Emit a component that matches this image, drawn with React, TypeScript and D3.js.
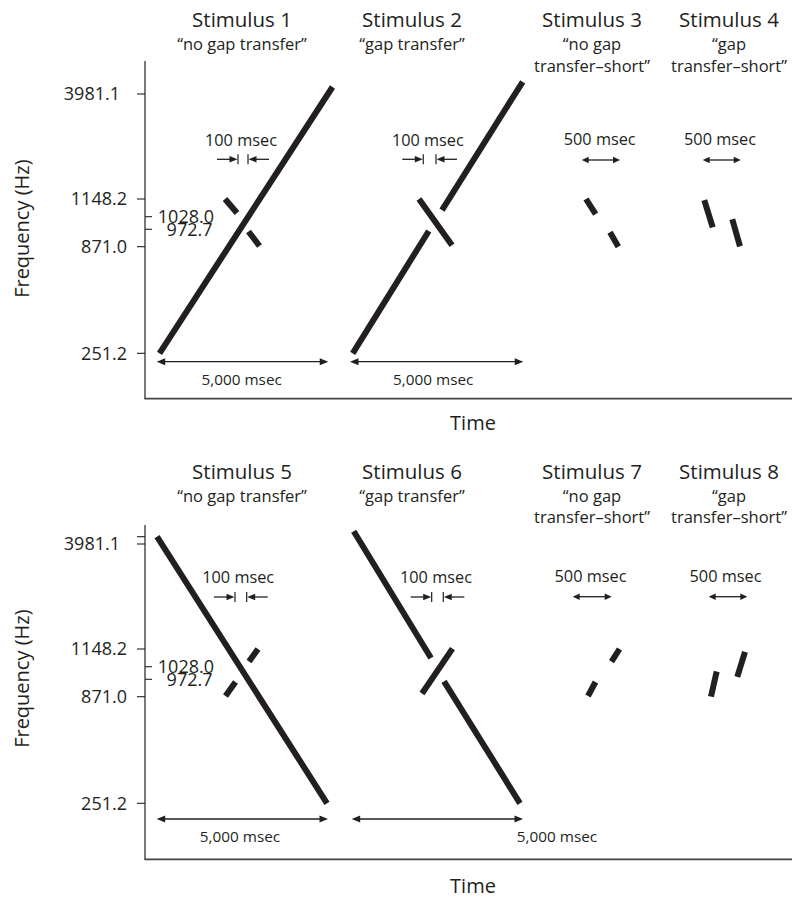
import React from "react";
import * as d3 from "d3";

// ---------- data ----------
const stimulusTitles = [
  "Stimulus 1", "Stimulus 2", "Stimulus 3", "Stimulus 4",
  "Stimulus 5", "Stimulus 6", "Stimulus 7", "Stimulus 8",
];
const stimulusSubtitles: string[][] = [
  ["\u201Cno gap transfer\u201D"], ["\u201Cgap transfer\u201D"], ["\u201Cno gap", "transfer\u2013short\u201D"], ["\u201Cgap", "transfer\u2013short\u201D"],
  ["\u201Cno gap transfer\u201D"], ["\u201Cgap transfer\u201D"], ["\u201Cno gap", "transfer\u2013short\u201D"], ["\u201Cgap", "transfer\u2013short\u201D"],
];

// frequency ticks (Hz), schematic axis
const freqDomain = [251.2, 871.0, 972.7, 1028.0, 1148.2, 3981.1];
const outerTickValues = [3981.1, 1148.2, 871.0, 251.2];
const innerTickValues = [1028.0, 972.7];
const bottomExtraTick = [4178];

// tone segments: [t0 (ms), f0 (Hz), t1 (ms), f1 (Hz)]
type Seg = [number, number, number, number];
const stim1Tones: Seg[] = [[0, 251.2, 5000, 4170], [1893, 1148.2, 2240, 1053], [2572, 960, 2890, 875]];
const stim2Tones: Seg[] = [[0, 251.2, 2199, 963], [2581, 1073, 4913, 4310], [1916, 1148.2, 2870, 880]];
const stim3Tones: Seg[] = [[1965, 1148.2, 2245, 1046], [2659, 955, 2900, 871]];
const stim4Tones: Seg[] = [[1916, 1141, 2159, 981], [2725, 1017, 2948, 873]];
const stim5Tones: Seg[] = [[0, 4178, 4913, 251.2], [1980, 875, 2269, 957], [2659, 1063, 2919, 1148.2]];
const stim6Tones: Seg[] = [[0, 4324, 2234, 1087], [2610, 961, 4806, 251.2], [1974, 890, 2855, 1160]];
const stim7Tones: Seg[] = [[1980, 875, 2196, 957], [2659, 1063, 2890, 1148.2]];
const stim8Tones: Seg[] = [[2037, 871, 2202, 1007], [2797, 983, 3020, 1128]];
const allTones = [stim1Tones, stim2Tones, stim3Tones, stim4Tones, stim5Tones, stim6Tones, stim7Tones, stim8Tones];

// 100 msec gap markers [left bar t, right bar t], label centre t
const gapMarkerTimes: ([number, number] | null)[] = [[2269, 2558], [2040, 2407], null, null, [2254, 2592], [2254, 2589], null, null];
const gapLabelTimes = [2355, 2172, 0, 0, 2347, 2378, 0, 0];
const gapLabel = "100 msec";

// 500 msec arrows
const shortArrowTimes: ([number, number] | null)[] = [null, null, [1841, 2948], [1870, 2968], null, null, [1537, 2665], [1971, 3087]];
const shortLabelTimes = [0, 0, 2361, 2370, 0, 0, 2052, 2457];
const shortLabel = "500 msec";

// 5,000 msec arrows
const longArrowTimes: ([number, number] | null)[] = [[-81, 4878], [-78, 4930], null, null, [-9, 4942], [-58, 4893], null, null];
const longLabelTimes = [2375, 2327, 0, 0, 2399, 5875, 0, 0];
const longLabel = "5,000 msec";

// ---------- layout ----------
const INK = "#231f20";
const FONT = "'Open Sans', 'Noto Sans', sans-serif";
const AXIS_X = 145;
const tickBaseY = [353.3, 246.7, 229.3, 216.7, 199, 94];
const stimOrigins = [159.5, 352.7, 518, 638, 157, 353.7, 519.5, 640.5];
const titleCenters = [242, 412, 592, 729];

const panels = [
  { yOffset: 0, axisTop: 61, axisBottom: 398.7, titleY: 27.3, subY: 50, lineGap: 21.7, gapTextY: 146, gapArrowY: 159.3, shortTextY: 145, shortArrowY: 160, longArrowY: 361.7, longTextY: 385, timeY: 430, extra: [] as number[] },
  { yOffset: 450, axisTop: 525, axisBottom: 859.3, titleY: 479, subY: 501.7, lineGap: 21.6, gapTextY: 582.7, gapArrowY: 597, shortTextY: 581.7, shortArrowY: 596.7, longArrowY: 819, longTextY: 841.7, timeY: 893, extra: bottomExtraTick },
];

function Head({ x, y, dir, len, hw }: { x: number; y: number; dir: 1 | -1; len: number; hw: number }) {
  // tip at x, pointing in dir (+1 right, -1 left)
  const bx = x - dir * len;
  return <polygon points={`${x},${y} ${bx},${y - hw} ${bx},${y + hw}`} fill={INK} />;
}

function DoubleArrow({ x1, x2, y, len, hw }: { x1: number; x2: number; y: number; len: number; hw: number }) {
  return (
    <g>
      <line x1={x1 + len - 1} x2={x2 - len + 1} y1={y} y2={y} stroke={INK} strokeWidth={1.3} />
      <Head x={x1} y={y} dir={-1} len={len} hw={hw} />
      <Head x={x2} y={y} dir={1} len={len} hw={hw} />
    </g>
  );
}

export default function App() {
  const W = 792, H = 900;
  const timeScale = d3.scaleLinear().domain([0, 5000]).range([0, 173]);
  const yScales = panels.map((p) =>
    d3.scaleLinear().domain(freqDomain).range(tickBaseY.map((v) => v + p.yOffset))
  );

  return (
    <svg width={W} height={H} style={{ display: "block", position: "absolute", left: 0, top: 0 }} fontFamily={FONT}>
      <rect width={W} height={H} fill="#fff" />
      {panels.map((p, pi) => {
        const y = yScales[pi];
        const midY = (y(251.2) + y(3981.1)) / 2 + 5;
        return (
          <g key={"panel" + pi}>
            {/* axes */}
            <line x1={AXIS_X} x2={AXIS_X} y1={p.axisTop} y2={p.axisBottom} stroke={INK} strokeWidth={1.2} />
            <line x1={AXIS_X - 0.6} x2={W} y1={p.axisBottom} y2={p.axisBottom} stroke="#444" strokeWidth={1.8} />
            {outerTickValues.map((f) => (
              <g key={"ot" + f}>
                <line x1={AXIS_X - 8} x2={AXIS_X} y1={y(f)} y2={y(f)} stroke={INK} strokeWidth={1.1} />
                <text x={f === 3981.1 ? 120 : 127} y={y(f)} dy="0.36em" textAnchor="end" fontSize={18} fill={INK}>
                  {f.toFixed(1)}
                </text>
              </g>
            ))}
            {p.extra.map((f) => (
              <line key={"et" + f} x1={AXIS_X - 8} x2={AXIS_X} y1={y(f)} y2={y(f)} stroke={INK} strokeWidth={1.1} />
            ))}
            {innerTickValues.map((f, k) => (
              <g key={"it" + f}>
                <line x1={AXIS_X} x2={AXIS_X + 7} y1={y(f)} y2={y(f)} stroke={INK} strokeWidth={1.1} />
                <text x={k === 0 ? 214 : 212.5} y={y(f)} dy="0.36em" textAnchor="end" fontSize={18} fill={INK}>
                  {f.toFixed(1)}
                </text>
              </g>
            ))}
            <text transform={`translate(29,${midY}) rotate(-90)`} textAnchor="middle" fontSize={20} fill={INK}>
              Frequency (Hz)
            </text>
            <text x={473} y={p.timeY} textAnchor="middle" fontSize={20} fill={INK}>Time</text>
          </g>
        );
      })}

      {stimulusTitles.map((title, i) => {
        const pi = Math.floor(i / 4);
        const col = i % 4;
        const p = panels[pi];
        const y = yScales[pi];
        const ox = stimOrigins[i];
        const x = (t: number) => ox + timeScale(t);
        const cx = titleCenters[col];
        const gm = gapMarkerTimes[i];
        const sa = shortArrowTimes[i];
        const la = longArrowTimes[i];
        return (
          <g key={"stim" + i}>
            <text x={cx} y={p.titleY} textAnchor="middle" fontSize={20.5} fill={INK}>{title}</text>
            {stimulusSubtitles[i].map((s, k) => (
              <text key={k} x={cx} y={p.subY + k * p.lineGap} textAnchor="middle" fontSize={16.5} fill={INK}>{s}</text>
            ))}
            {allTones[i].map((s, k) => (
              <line key={"seg" + k} x1={x(s[0])} y1={y(s[1])} x2={x(s[2])} y2={y(s[3])} stroke={INK} strokeWidth={6} strokeLinecap="butt" />
            ))}
            {gm && (
              <g>
                <text x={x(gapLabelTimes[i])} y={p.gapTextY} textAnchor="middle" fontSize={16.3} fill={INK}>{gapLabel}</text>
                <line x1={x(gm[0]) - 21} x2={x(gm[0]) - 6} y1={p.gapArrowY} y2={p.gapArrowY} stroke={INK} strokeWidth={1.3} />
                <Head x={x(gm[0]) - 0.5} y={p.gapArrowY} dir={1} len={8} hw={3.2} />
                <line x1={x(gm[0])} x2={x(gm[0])} y1={p.gapArrowY - 5} y2={p.gapArrowY + 5} stroke={INK} strokeWidth={1.2} />
                <line x1={x(gm[1])} x2={x(gm[1])} y1={p.gapArrowY - 5} y2={p.gapArrowY + 5} stroke={INK} strokeWidth={1.2} />
                <Head x={x(gm[1]) + 0.5} y={p.gapArrowY} dir={-1} len={8} hw={3.2} />
                <line x1={x(gm[1]) + 6} x2={x(gm[1]) + 21} y1={p.gapArrowY} y2={p.gapArrowY} stroke={INK} strokeWidth={1.3} />
              </g>
            )}
            {sa && (
              <g>
                <text x={x(shortLabelTimes[i])} y={p.shortTextY} textAnchor="middle" fontSize={16.3} fill={INK}>{shortLabel}</text>
                <DoubleArrow x1={x(sa[0])} x2={x(sa[1])} y={p.shortArrowY} len={7} hw={3.2} />
              </g>
            )}
            {la && (
              <g>
                <DoubleArrow x1={x(la[0])} x2={x(la[1])} y={p.longArrowY} len={8.5} hw={3.5} />
                <text x={x(longLabelTimes[i])} y={p.longTextY} textAnchor="middle" fontSize={15.3} fill={INK}>{longLabel}</text>
              </g>
            )}
          </g>
        );
      })}
    </svg>
  );
}
